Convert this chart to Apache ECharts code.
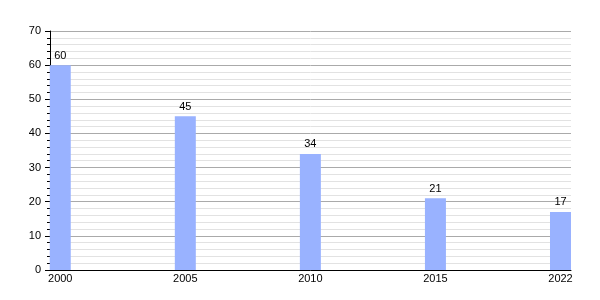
<!DOCTYPE html>
<html><head><meta charset="utf-8">
<script src="https://cdn.jsdelivr.net/npm/echarts@6/dist/echarts.min.js"></script>
<style>html,body{margin:0;padding:0;background:#fff}#c{width:600px;height:300px}</style>
</head><body><div id="c"></div>
<script>
const years = ['2000', '2005', '2010', '2015', '2022'];
const values = [60, 45, 34, 21, 17];
const yTicks = [0, 10, 20, 30, 40, 50, 60, 70];

const chart = echarts.init(document.getElementById('c'), null, {renderer: 'canvas'});
const idx = years.map((_, i) => i);
chart.setOption({
  animation: false,
  grid: {left: 50, right: 29, top: 31, bottom: 30, containLabel: false},
  xAxis: {
    type: 'value', min: -0.082, max: 4.084,
    axisLine: {show: true, onZero: false, lineStyle: {color: '#000', width: 1}},
    axisTick: {show: false},
    splitLine: {show: false},
    axisLabel: {
      customValues: idx, margin: 3, color: '#000', fontSize: 11,
      fontFamily: 'Liberation Sans, Arial, sans-serif',
      formatter: v => years[Math.round(v)]
    }
  },
  yAxis: {
    type: 'value', min: yTicks[0], max: yTicks[yTicks.length - 1], interval: 10,
    axisLine: {show: true, onZero: false, lineStyle: {color: '#000', width: 1}},
    axisTick: {show: true, length: 5, lineStyle: {color: '#000'}},
    minorTick: {show: true, splitNumber: 5, length: 3, lineStyle: {color: '#000'}},
    splitLine: {show: true, lineStyle: {color: '#aaaaaa', width: 1}},
    minorSplitLine: {show: true, lineStyle: {color: '#e2e2e2', width: 1}},
    axisLabel: {margin: 9, color: '#000', fontSize: 11, fontFamily: 'Liberation Sans, Arial, sans-serif'}
  },
  series: [{
    type: 'bar', barWidth: 21,
    data: values.map((v, i) => [i, v]),
    itemStyle: {color: '#99b2ff'},
    label: {show: true, position: 'top', distance: 4, color: '#000', fontSize: 11,
      fontFamily: 'Liberation Sans, Arial, sans-serif', formatter: p => p.value[1]}
  }]
});
</script></body></html>
